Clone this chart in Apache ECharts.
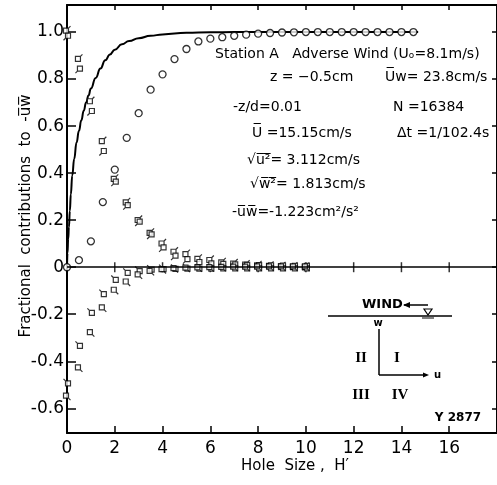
<!DOCTYPE html>
<html>
<head>
<meta charset="utf-8">
<script src="https://cdn.jsdelivr.net/npm/echarts@6/dist/echarts.min.js"></script>
<style>html,body{margin:0;padding:0;background:#fff}#c{width:497px;height:485px}</style>
</head>
<body>
<div id="c"></div>
<script>
// ---- data ----
const circleH = [0,0.5,1,1.5,2,2.5,3,3.5,4,4.5,5,5.5,6,6.5,7,7.5,8,8.5,9,9.5,10,10.5,11,11.5,12,12.5,13,13.5,14,14.5];
const circleY = [0,0.03,0.11,0.277,0.415,0.55,0.655,0.755,0.82,0.885,0.928,0.96,0.972,0.978,0.984,0.989,0.993,0.996,0.998,0.999,1.0,1.0,1.0,1.0,1.0,1.0,1.0,1.0,1.0,1.0];

const squareH = [0,0.5,1,1.5,2,2.5,3,3.5,4,4.5,5,5.5,6,6.5,7,7.5,8,8.5,9,9.5,10];
const upperA = [1.01,0.89,0.71,0.54,0.38,0.28,0.205,0.15,0.105,0.07,0.06,0.04,0.035,0.025,0.02,0.015,0.012,0.01,0.008,0.006,0.005];
const upperB = [0.98,0.84,0.66,0.49,0.36,0.26,0.19,0.135,0.08,0.045,0.03,0.018,0.012,0.01,0.008,0.006,0.005,0.004,0.003,0.002,0.002];
const lowerA = [-0.49,-0.33,-0.19,-0.11,-0.05,-0.02,-0.012,-0.006,-0.004,-0.003,-0.002,-0.002,-0.002,-0.001,-0.001,-0.001,-0.001,-0.001,-0.001,-0.001,-0.001];
const lowerB = [-0.55,-0.43,-0.28,-0.175,-0.10,-0.065,-0.035,-0.02,-0.012,-0.008,-0.006,-0.005,-0.004,-0.003,-0.002,-0.002,-0.001,-0.001,-0.001,-0.001,-0.001];

const curveH = [0,0.02,0.05,0.08,0.12,0.16,0.22,0.3,0.4,0.5,0.6,0.7,0.8,0.9,1.0,1.2,1.4,1.6,1.8,2.0,2.3,2.6,3.0,3.5,4.0,4.5,5.0,6.0,7.0,10.0,14.7];
const curveY = [0,0.06,0.12,0.17,0.24,0.31,0.39,0.46,0.53,0.58,0.625,0.665,0.70,0.73,0.76,0.805,0.845,0.88,0.905,0.925,0.948,0.962,0.974,0.984,0.99,0.994,0.997,0.999,1.0,1.0,1.0];

const xTicks = [0,2,4,6,8,10,12,14,16];
const yTicks = [-0.6,-0.4,-0.2,0,0.2,0.4,0.6,0.8,1.0];
const zeroTicksH = [2,4,6,8,10,12,14,16];

const pair = (xs, ys) => xs.map((x, i) => [x, ys[i]]);

const FONT = 'DejaVu Sans';
const chart = echarts.init(document.getElementById('c'), null, {renderer: 'canvas'});

const sqA = 'path://M0,2 L5,2 L5,7 L0,7 Z M5,2 L7,0';
const sqB = 'path://M2,0 L7,0 L7,5 L2,5 Z M2,5 L0,7';
const sqC = 'path://M2,2 L7,2 L7,7 L2,7 Z M2,2 L0,0';
const sqD = 'path://M0,0 L5,0 L5,5 L0,5 Z M5,5 L7,7';

function sqSeries(data, sym) {
  return {
    type: 'scatter', data: data, symbol: sym, symbolSize: 7,
    itemStyle: {color: '#fff', borderColor: '#000', borderWidth: 1.2}, z: 3
  };
}

function txt(x, y, text, extra) {
  return {
    type: 'text', x: x, y: y,
    style: Object.assign({text: text, fill: '#000', font: '14px "' + FONT + '"', textAlign: 'left', textVerticalAlign: 'middle'}, extra || {})
  };
}

const option = {
  animation: false,
  backgroundColor: '#fff',
  grid: {left: 67, top: 5, width: 433, height: 428, containLabel: false},
  xAxis: [
    {type: 'value', position: 'bottom', min: 0, max: 18, interval: 2,
     axisLine: {onZero: false, lineStyle: {color: '#000', width: 2}},
     axisTick: {inside: true, length: 7, lineStyle: {color: '#000', width: 1.5}},
     axisLabel: {color: '#000', fontSize: 17, fontFamily: FONT, margin: 7, customValues: xTicks},
     splitLine: {show: false}},
    {type: 'value', position: 'top', min: 0, max: 18, interval: 2,
     axisLine: {onZero: false, lineStyle: {color: '#000', width: 2}},
     axisTick: {inside: true, length: 5, lineStyle: {color: '#000', width: 1.5}},
     axisLabel: {show: false}, splitLine: {show: false}}
  ],
  yAxis: [
    {type: 'value', position: 'left', min: -0.705, max: 1.115,
     axisLine: {onZero: false, lineStyle: {color: '#000', width: 2}},
     axisTick: {inside: true, length: 9, customValues: yTicks, lineStyle: {color: '#000', width: 1.5}},
     axisLabel: {color: '#000', fontSize: 17, fontFamily: FONT, margin: 3, customValues: yTicks,
       formatter: v => Math.abs(v) < 1e-9 ? '0' : (v < 0 ? '-' : '') + Math.abs(v).toFixed(1)},
     splitLine: {show: false}},
    {type: 'value', position: 'right', min: -0.705, max: 1.115,
     axisLine: {onZero: false, lineStyle: {color: '#000', width: 2}},
     axisTick: {inside: true, length: 5, customValues: yTicks, lineStyle: {color: '#000', width: 1.5}},
     axisLabel: {show: false}, splitLine: {show: false}}
  ],
  series: [
    {type: 'line', data: pair(curveH, curveY), symbol: 'none', smooth: true, smoothMonotone: 'x',
     lineStyle: {color: '#000', width: 2}, z: 2,
     markLine: {silent: true, symbol: 'none', label: {show: false},
       lineStyle: {color: '#000', width: 1.6, type: 'solid'}, data: [{yAxis: 0}]}},
    {type: 'scatter', data: zeroTicksH.map(h => [h, 0]), symbol: 'rect', symbolSize: [1.5, 10],
     itemStyle: {color: '#000'}, z: 2},
    sqSeries(pair(squareH, upperA), sqA),
    sqSeries(pair(squareH, upperB), sqB),
    sqSeries(pair(squareH, lowerA), sqC),
    sqSeries(pair(squareH, lowerB), sqD),
    {type: 'scatter', data: pair(circleH, circleY), symbol: 'circle', symbolSize: 7,
     itemStyle: {color: '#fff', borderColor: '#000', borderWidth: 1.3}, z: 4}
  ],
  graphic: [
    {type: 'text', x: 26, y: 216, rotation: Math.PI / 2,
     style: {text: 'Fractional  contributions  to  -u\u0305w\u0305', fill: '#000', font: '15px "' + FONT + '"',
       textAlign: 'center', textVerticalAlign: 'middle'}},
    {type: 'text', x: 295, y: 466,
     style: {text: 'Hole  Size ,  H\u2032', fill: '#000', font: '15px "' + FONT + '"',
       textAlign: 'center', textVerticalAlign: 'middle'}},
    txt(215, 54, 'Station A   Adverse Wind (U\u2092=8.1m/s)'),
    txt(270, 77, 'z = \u22120.5cm'),
    txt(385, 77, 'U\u0305w= 23.8cm/s'),
    txt(233, 107, '-z/d=0.01'),
    txt(393, 107, 'N =16384'),
    txt(252, 133, 'U\u0305 =15.15cm/s'),
    txt(397, 133, '\u0394t =1/102.4s'),
    txt(247, 160, '\u221Au\u0305\u00B2\u0305= 3.112cm/s'),
    txt(250, 184, '\u221Aw\u0305\u00B2\u0305= 1.813cm/s'),
    txt(232, 212, '-u\u0305w\u0305=-1.223cm\u00B2/s\u00B2'),
    txt(362, 305, 'WIND', {font: 'bold 13px "' + FONT + '"'}),
    {type: 'line', shape: {x1: 404, y1: 305, x2: 428, y2: 305}, style: {stroke: '#000', lineWidth: 1.5}},
    {type: 'polygon', shape: {points: [[403, 305], [410, 302], [410, 308]]}, style: {fill: '#000'}},
    {type: 'line', shape: {x1: 328, y1: 316, x2: 452, y2: 316}, style: {stroke: '#000', lineWidth: 1.5}},
    {type: 'polygon', shape: {points: [[424, 309], [432, 309], [428, 315]]}, style: {fill: '#fff', stroke: '#000', lineWidth: 1.2}},
    {type: 'line', shape: {x1: 422, y1: 318, x2: 434, y2: 318}, style: {stroke: '#000', lineWidth: 1}},
    txt(378, 323, 'w', {font: 'bold 10px "' + FONT + '"', textAlign: 'center'}),
    {type: 'line', shape: {x1: 379, y1: 329, x2: 379, y2: 375}, style: {stroke: '#000', lineWidth: 1.5}},
    {type: 'line', shape: {x1: 379, y1: 375, x2: 426, y2: 375}, style: {stroke: '#000', lineWidth: 1.5}},
    {type: 'polygon', shape: {points: [[429, 375], [423, 372.5], [423, 377.5]]}, style: {fill: '#000'}},
    txt(434, 375, 'u', {font: 'bold 10px "' + FONT + '"'}),
    txt(361, 358, 'II', {font: 'bold 15px "Liberation Serif"', textAlign: 'center'}),
    txt(397, 358, 'I', {font: 'bold 15px "Liberation Serif"', textAlign: 'center'}),
    txt(361, 395, 'III', {font: 'bold 15px "Liberation Serif"', textAlign: 'center'}),
    txt(400, 395, 'IV', {font: 'bold 15px "Liberation Serif"', textAlign: 'center'}),
    txt(458, 418, 'Y 2877', {font: 'bold 12px "' + FONT + '"', textAlign: 'center'})
  ]
};
chart.setOption(option);
</script>
</body>
</html>
